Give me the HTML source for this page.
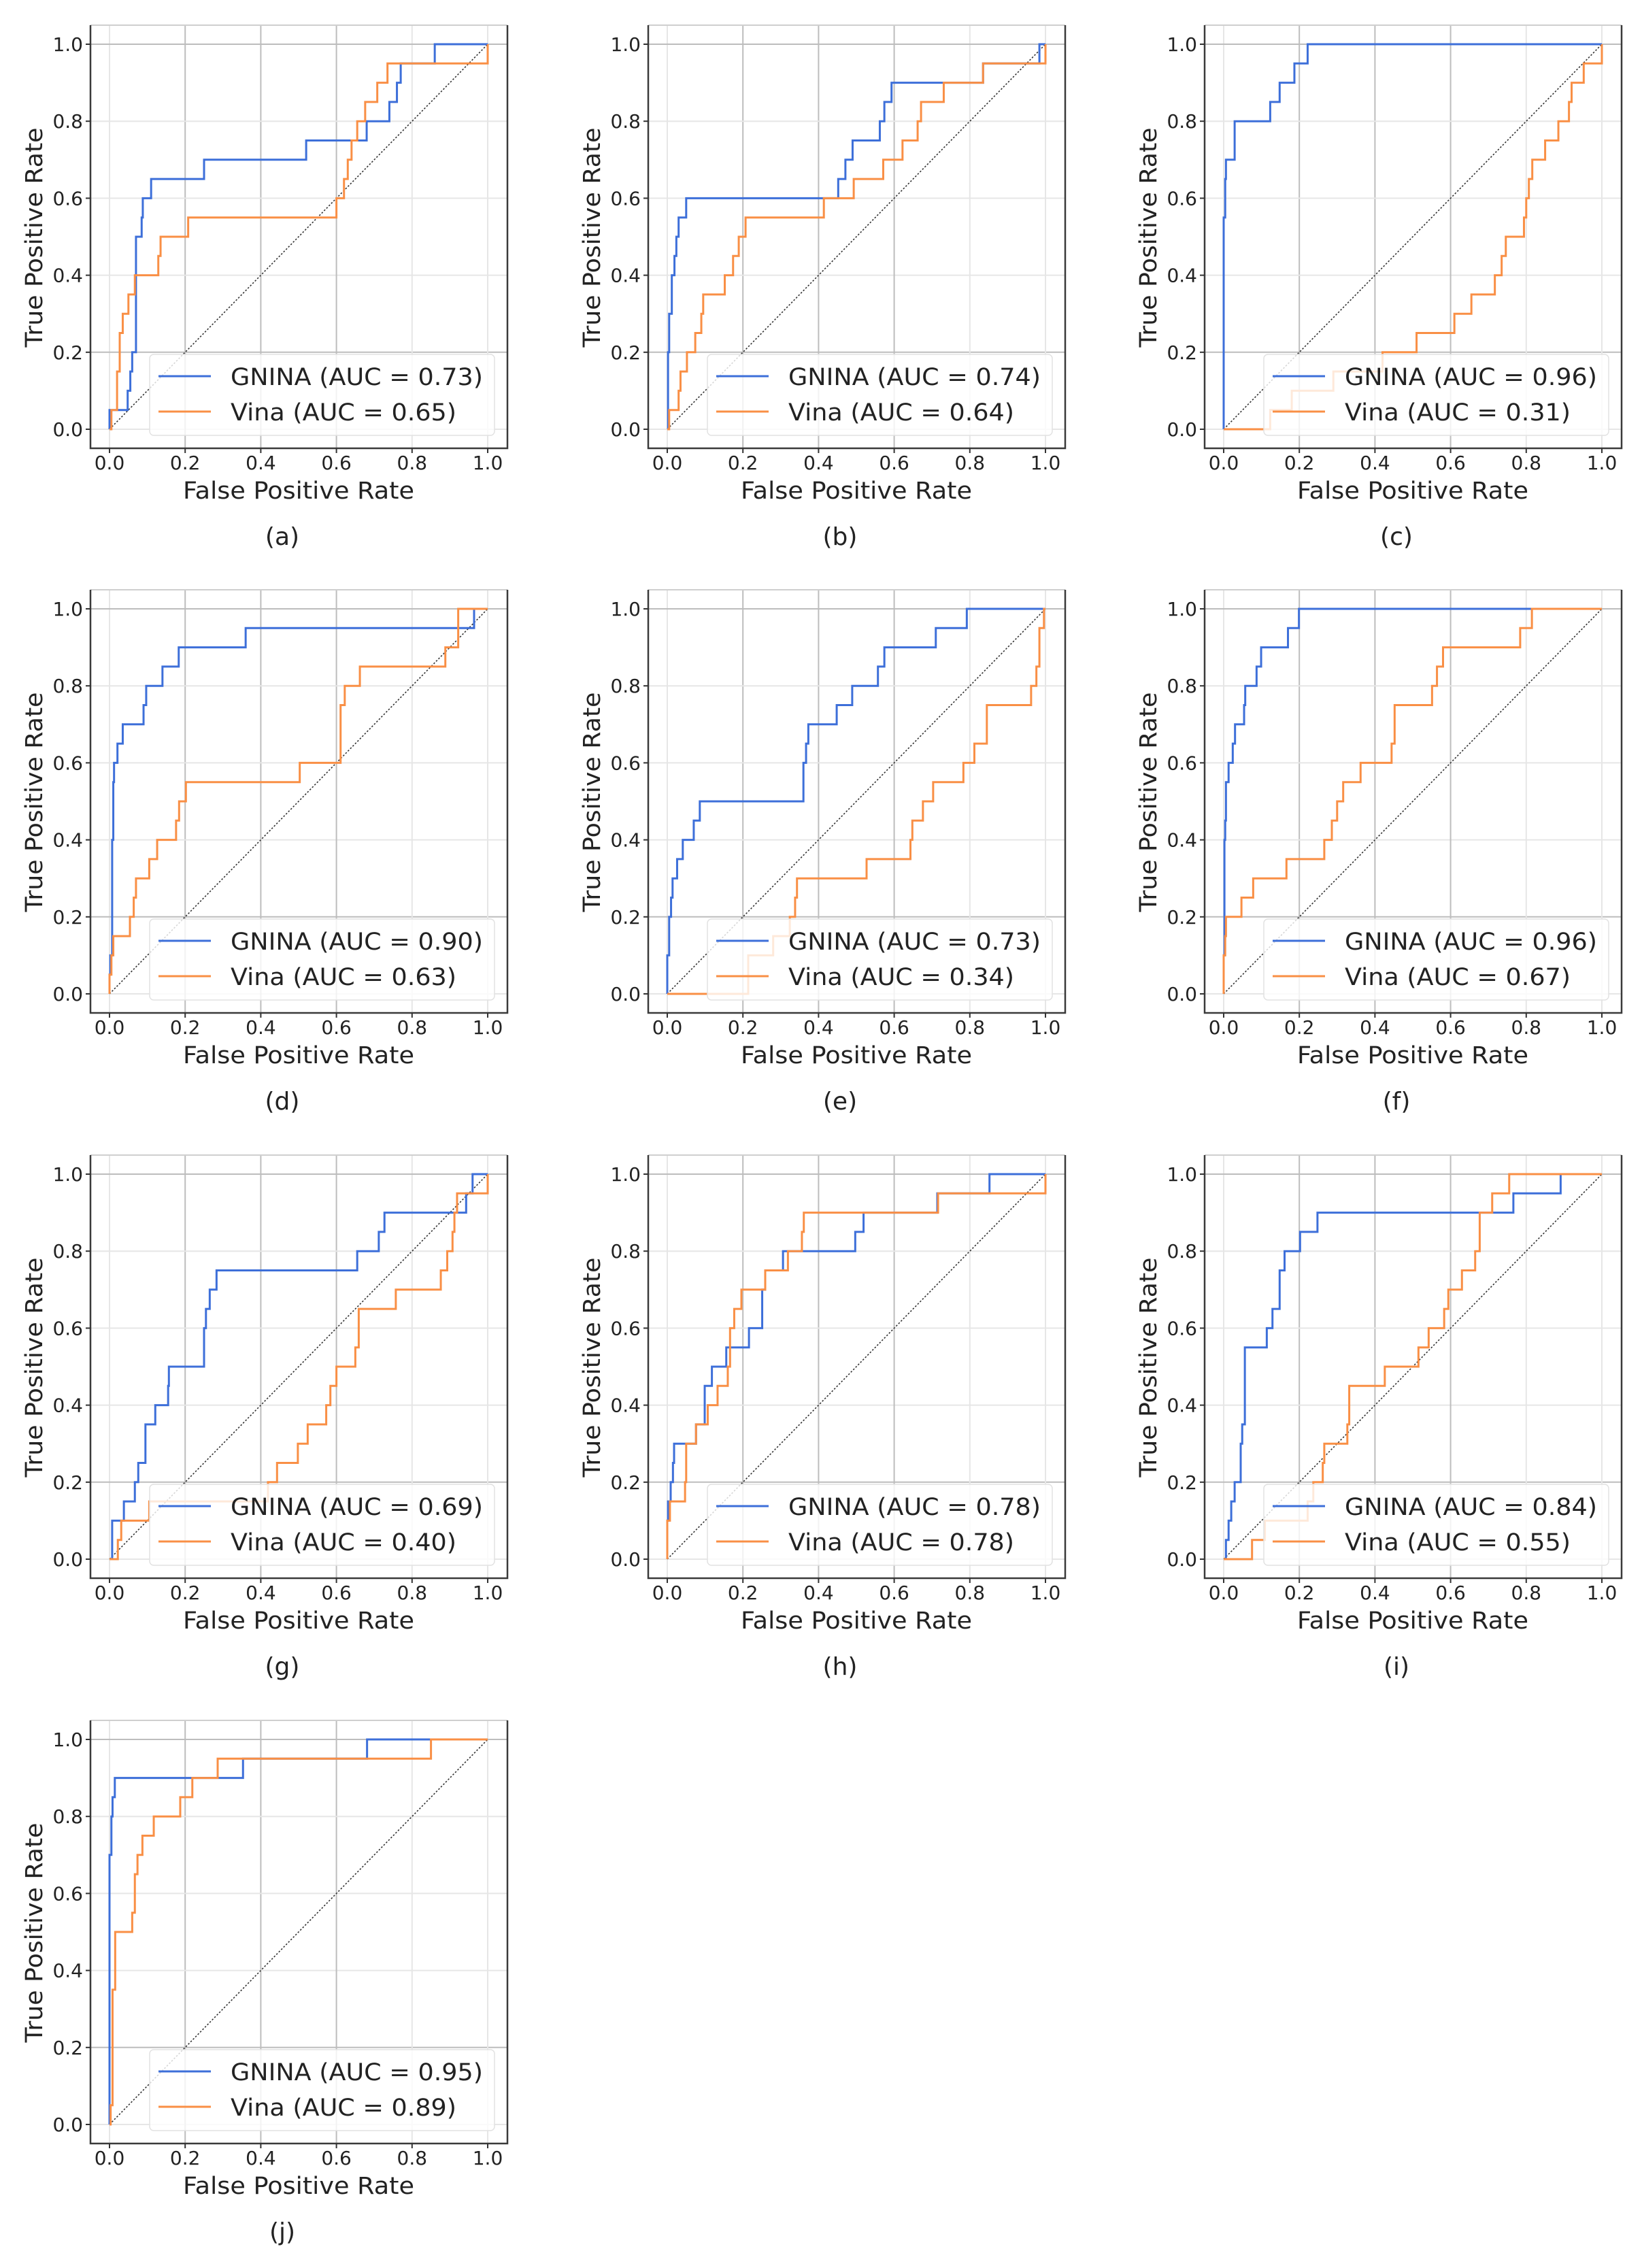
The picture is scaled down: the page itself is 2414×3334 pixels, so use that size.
<!DOCTYPE html>
<html><head><meta charset="utf-8"><style>
html,body{margin:0;padding:0;background:#fff;}
svg{display:block;font-family:"DejaVu Sans","Liberation Sans",sans-serif;}
</style></head><body>
<svg id="fig" width="2414" height="3334" viewBox="0 0 2414 3334" xmlns="http://www.w3.org/2000/svg"></svg>
<script>
const panelLabels=["(a)","(b)","(c)","(d)","(e)","(f)","(g)","(h)","(i)","(j)"];
const gninaAuc=["0.73","0.74","0.96","0.90","0.73","0.96","0.69","0.78","0.84","0.95"];
const vinaAuc=["0.65","0.64","0.31","0.63","0.34","0.67","0.40","0.78","0.55","0.89"];
const tickValues=[0,0.2,0.4,0.6,0.8,1.0];
const tickLabels=["0.0","0.2","0.4","0.6","0.8","1.0"];

const aGFpr=[0,0,0.048,0.055,0.06,0.07,0.085,0.088,0.11,0.25,0.52,0.68,0.74,0.76,0.77,0.86,1.0];
const aGTpr=[0,0.05,0.1,0.15,0.2,0.5,0.55,0.6,0.65,0.7,0.75,0.8,0.85,0.9,0.95,1.0,1.0];
const aVFpr=[0,0.005,0.02,0.027,0.035,0.05,0.067,0.129,0.135,0.208,0.6,0.62,0.63,0.64,0.655,0.676,0.708,0.735,1.0];
const aVTpr=[0,0.05,0.15,0.25,0.3,0.35,0.4,0.45,0.5,0.55,0.6,0.65,0.7,0.75,0.8,0.85,0.9,0.95,1.0];

const bGFpr=[0,0.002,0.005,0.012,0.019,0.024,0.03,0.05,0.452,0.471,0.49,0.562,0.574,0.593,0.835,0.984,1.0];
const bGTpr=[0,0.2,0.3,0.4,0.45,0.5,0.55,0.6,0.65,0.7,0.75,0.8,0.85,0.9,0.95,1.0,1.0];
const bVFpr=[0,0.005,0.03,0.035,0.052,0.074,0.09,0.095,0.152,0.174,0.189,0.207,0.414,0.493,0.571,0.622,0.662,0.671,0.731,0.835,1.0];
const bVTpr=[0,0.05,0.1,0.15,0.2,0.25,0.3,0.35,0.4,0.45,0.5,0.55,0.6,0.65,0.7,0.75,0.8,0.85,0.9,0.95,1.0];

const cGFpr=[0,0,0.004,0.006,0.029,0.123,0.148,0.187,0.222,1.0];
const cGTpr=[0,0.55,0.65,0.7,0.8,0.85,0.9,0.95,1.0,1.0];
const cVFpr=[0,0.123,0.18,0.29,0.42,0.51,0.61,0.655,0.717,0.735,0.746,0.794,0.8,0.807,0.816,0.85,0.885,0.913,0.92,0.952,1.0];
const cVTpr=[0,0.05,0.1,0.15,0.2,0.25,0.3,0.35,0.4,0.45,0.5,0.55,0.6,0.65,0.7,0.75,0.8,0.85,0.9,0.95,1.0];

const dGFpr=[0,0,0.002,0.007,0.01,0.012,0.021,0.035,0.09,0.097,0.14,0.183,0.36,0.964,1.0];
const dGTpr=[0,0.05,0.1,0.4,0.55,0.6,0.65,0.7,0.75,0.8,0.85,0.9,0.95,1.0,1.0];
const dVFpr=[0,0,0.005,0.01,0.054,0.064,0.07,0.105,0.126,0.176,0.184,0.202,0.503,0.611,0.622,0.662,0.888,0.922,1.0];
const dVTpr=[0,0.05,0.1,0.15,0.2,0.25,0.3,0.35,0.4,0.45,0.5,0.55,0.6,0.75,0.8,0.85,0.9,1.0,1.0];

const eGFpr=[0,0,0.005,0.01,0.014,0.026,0.041,0.07,0.086,0.36,0.367,0.373,0.448,0.489,0.557,0.574,0.71,0.792,1.0];
const eGTpr=[0,0.1,0.2,0.25,0.3,0.35,0.4,0.45,0.5,0.6,0.65,0.7,0.75,0.8,0.85,0.9,0.95,1.0,1.0];
const eVFpr=[0,0.214,0.28,0.324,0.338,0.343,0.527,0.643,0.648,0.676,0.703,0.783,0.812,0.845,0.962,0.976,0.984,0.996,1.0];
const eVTpr=[0,0.1,0.15,0.2,0.25,0.3,0.35,0.4,0.45,0.5,0.55,0.6,0.65,0.75,0.8,0.85,0.95,1.0,1.0];

const fGFpr=[0,0,0.002,0.004,0.006,0.013,0.024,0.03,0.054,0.057,0.087,0.099,0.17,0.199,1.0];
const fGTpr=[0,0.1,0.4,0.45,0.55,0.6,0.65,0.7,0.75,0.8,0.85,0.9,0.95,1.0,1.0];
const fVFpr=[0,0,0.004,0.006,0.047,0.078,0.166,0.266,0.286,0.3,0.316,0.362,0.444,0.452,0.551,0.564,0.58,0.784,0.815,1.0];
const fVTpr=[0,0.1,0.15,0.2,0.25,0.3,0.35,0.4,0.45,0.5,0.55,0.6,0.65,0.75,0.8,0.85,0.9,0.95,1.0,1.0];

const gGFpr=[0,0.007,0.038,0.067,0.076,0.095,0.121,0.155,0.157,0.25,0.255,0.265,0.283,0.655,0.712,0.727,0.943,0.96,1.0];
const gGTpr=[0,0.1,0.15,0.2,0.25,0.35,0.4,0.45,0.5,0.6,0.65,0.7,0.75,0.8,0.85,0.9,0.95,1.0,1.0];
const gVFpr=[0,0.022,0.031,0.105,0.419,0.443,0.498,0.524,0.573,0.584,0.6,0.65,0.659,0.757,0.876,0.893,0.907,0.912,0.919,1.0];
const gVTpr=[0,0.05,0.1,0.15,0.2,0.25,0.3,0.35,0.4,0.45,0.5,0.55,0.65,0.7,0.75,0.8,0.85,0.9,0.95,1.0];

const hGFpr=[0,0,0.002,0.009,0.015,0.018,0.076,0.099,0.118,0.156,0.216,0.251,0.259,0.306,0.497,0.519,0.714,0.852,1.0];
const hGTpr=[0,0.1,0.15,0.2,0.25,0.3,0.35,0.45,0.5,0.55,0.6,0.7,0.75,0.8,0.85,0.9,0.95,1.0,1.0];
const hVFpr=[0,0,0.007,0.047,0.05,0.076,0.107,0.133,0.16,0.166,0.177,0.196,0.259,0.319,0.356,0.361,0.716,1.0];
const hVTpr=[0,0.1,0.15,0.2,0.3,0.35,0.4,0.45,0.5,0.6,0.65,0.7,0.75,0.8,0.85,0.9,0.95,1.0];

const iGFpr=[0,0.006,0.013,0.02,0.029,0.045,0.049,0.056,0.114,0.129,0.148,0.161,0.202,0.248,0.766,0.891,1.0];
const iGTpr=[0,0.05,0.1,0.15,0.2,0.3,0.35,0.55,0.6,0.65,0.75,0.8,0.85,0.9,0.95,1.0,1.0];
const iVFpr=[0,0.075,0.109,0.222,0.237,0.262,0.266,0.327,0.332,0.426,0.515,0.542,0.583,0.594,0.63,0.665,0.677,0.71,0.755,1.0];
const iVTpr=[0,0.05,0.1,0.15,0.2,0.25,0.3,0.35,0.45,0.5,0.55,0.6,0.65,0.7,0.75,0.8,0.9,0.95,1.0,1.0];

const jGFpr=[0,0,0.005,0.008,0.014,0.353,0.681,1.0];
const jGTpr=[0,0.7,0.8,0.85,0.9,0.95,1.0,1.0];
const jVFpr=[0,0.003,0.008,0.015,0.06,0.067,0.074,0.087,0.117,0.187,0.219,0.286,0.85,1.0];
const jVTpr=[0,0.05,0.35,0.5,0.55,0.65,0.7,0.75,0.8,0.85,0.9,0.95,1.0,1.0];

const gninaFpr=[aGFpr,bGFpr,cGFpr,dGFpr,eGFpr,fGFpr,gGFpr,hGFpr,iGFpr,jGFpr];
const gninaTpr=[aGTpr,bGTpr,cGTpr,dGTpr,eGTpr,fGTpr,gGTpr,hGTpr,iGTpr,jGTpr];
const vinaFpr=[aVFpr,bVFpr,cVFpr,dVFpr,eVFpr,fVFpr,gVFpr,hVFpr,iVFpr,jVFpr];
const vinaTpr=[aVTpr,bVTpr,cVTpr,dVTpr,eVTpr,fVTpr,gVTpr,hVTpr,iVTpr,jVTpr];

const NS="http://www.w3.org/2000/svg";
const svg=document.getElementById('fig');
const colOff=[0,820,1638], rowOff=[0,830,1661,2492];
const BLUE="#3d6fd9", ORANGE="#f98f45";
function mk(tag,attrs,parent,txt){const e=document.createElementNS(NS,tag);for(const k in attrs)e.setAttribute(k,attrs[k]);if(txt!==undefined)e.textContent=txt;parent.appendChild(e);return e;}

for(let p=0;p<10;p++){
  const ox=colOff[p%3], oy=rowOff[Math.floor(p/3)];
  const g=mk('g',{transform:`translate(${ox},${oy})`},svg);
  
  
  const X=v=>161+v*556, Y=v=>631-v*566;
  // grid
  const strongX=[0.2,0.4,0.6], strongY=[1.0,0.2];
  tickValues.forEach(v=>{
    const gx=mk('line',{x1:X(v),x2:X(v),y1:37,y2:659,stroke:strongX.includes(v)?'#bdbdbd':'#e6e6e6','stroke-width':2},g);
    
    
    const gy=mk('line',{x1:133,x2:746,y1:Y(v),y2:Y(v),stroke:strongY.includes(v)?'#bdbdbd':'#e6e6e6','stroke-width':2},g);
    
    
  });
  // spines
  const top=mk('line',{x1:133,x2:746,y1:37,y2:37,stroke:'#cfcfcf','stroke-width':2},g);
  
  
  const sp=mk('path',{d:'M133,37 V659 H746 V37',fill:'none',stroke:'#3a3a3a','stroke-width':2.5},g);
  
  
  // ticks
  tickValues.forEach((v,i)=>{
    mk('line',{x1:X(v),x2:X(v),y1:659,y2:666,stroke:'#333','stroke-width':2},g);
    mk('line',{x1:126,x2:133,y1:Y(v),y2:Y(v),stroke:'#333','stroke-width':2},g);
    const tx=mk('text',{x:X(v),y:690,'text-anchor':'middle','font-size':28,fill:'#222'},g,tickLabels[i]);
    
    
    const ty=mk('text',{x:122,y:Y(v)+10,'text-anchor':'end','font-size':28,fill:'#222'},g,tickLabels[i]);
    
    
  });
  const xl=mk('text',{x:439,y:733,'text-anchor':'middle','font-size':35,fill:'#222',textLength:340,lengthAdjust:'spacingAndGlyphs'},g,'False Positive Rate');
  
  
  const yl=mk('text',{transform:'translate(62,349) rotate(-90)','text-anchor':'middle','font-size':35,fill:'#222',textLength:323,lengthAdjust:'spacingAndGlyphs'},g,'True Positive Rate');
  
  
  const pl=mk('text',{x:415,y:801,'text-anchor':'middle','font-size':36,fill:'#222'},g,panelLabels[p]);
  
  
  // diagonal
  const dg=mk('line',{x1:X(0),y1:Y(0),x2:X(1),y2:Y(1),stroke:'#333','stroke-width':1.6,'stroke-dasharray':'2.5,2.5'},g);
  
  
  // curves
  function curve(fx,ty,color,name){
    let d=`M${X(fx[0])},${Y(ty[0])}`;
    for(let i=1;i<fx.length;i++){d+=` H${X(fx[i])} V${Y(ty[i])}`;}
    const c=mk('path',{d:d,fill:'none',stroke:color,'stroke-width':3,'stroke-linejoin':'miter'},g);
    
    
  }
  curve(gninaFpr[p],gninaTpr[p],BLUE,'gnina-roc-curve');
  curve(vinaFpr[p],vinaTpr[p],ORANGE,'vina-roc-curve');
  // legend
  const lg=mk('g',{},g);
  
  
  mk('rect',{x:220,y:521,width:507,height:119,rx:6,fill:'#ffffff','fill-opacity':0.8,stroke:'#e2e2e2','stroke-width':1.5},lg);
  mk('line',{x1:233,x2:310,y1:553,y2:553,stroke:BLUE,'stroke-width':3},lg);
  mk('line',{x1:233,x2:310,y1:605,y2:605,stroke:ORANGE,'stroke-width':3},lg);
  const t1=mk('text',{x:339,y:566,'font-size':35,fill:'#222',textLength:371,lengthAdjust:'spacingAndGlyphs'},lg,'GNINA (AUC = '+gninaAuc[p]+')');
  
  
  const t2=mk('text',{x:339,y:618,'font-size':35,fill:'#222',textLength:332,lengthAdjust:'spacingAndGlyphs'},lg,'Vina (AUC = '+vinaAuc[p]+')');
  
  
}
</script>
</body></html>
